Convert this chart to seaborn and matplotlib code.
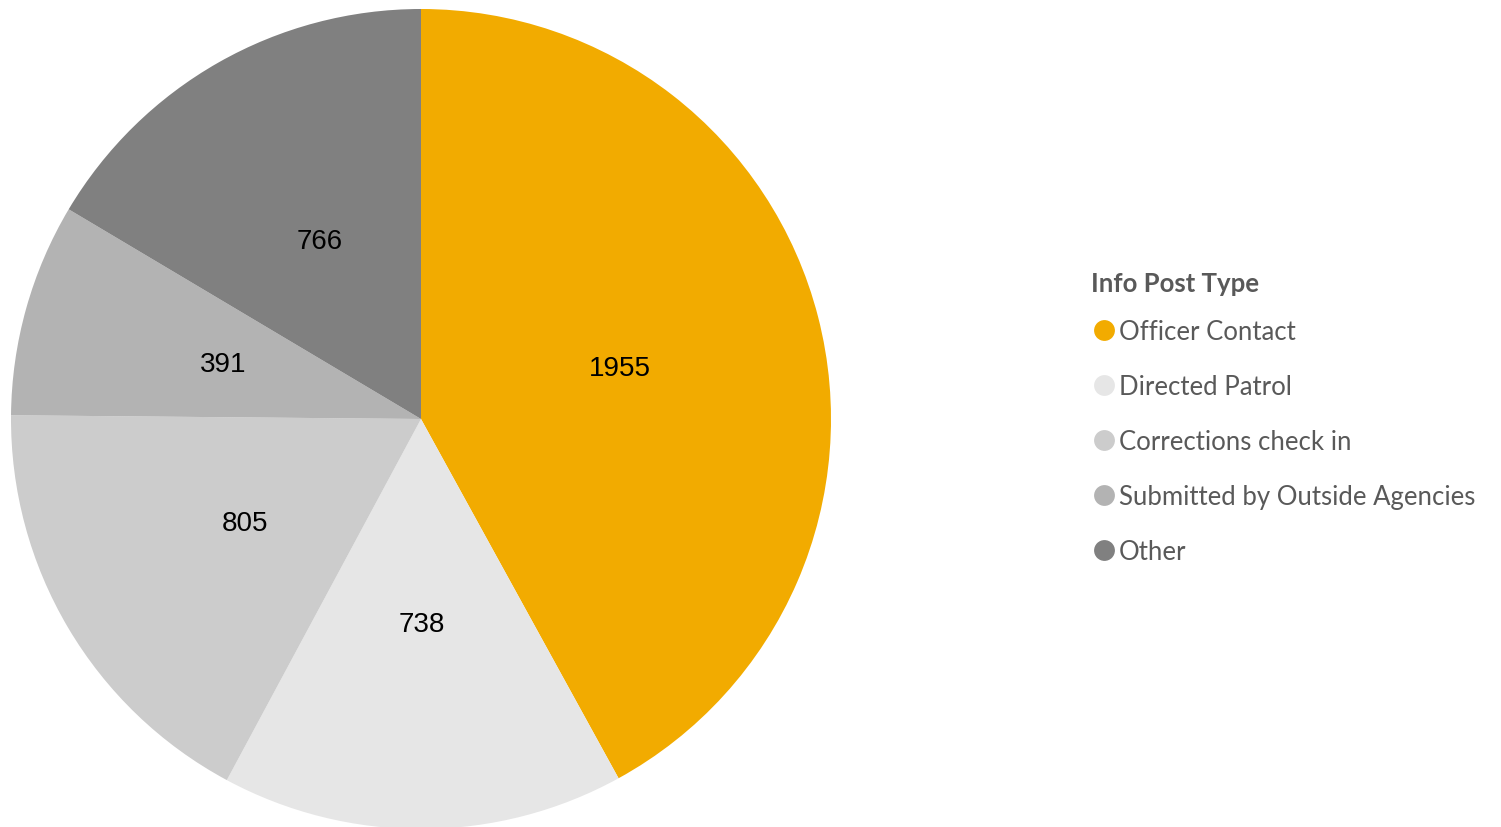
import matplotlib
matplotlib.use("Agg")
import matplotlib.pyplot as plt
from matplotlib.lines import Line2D
import seaborn as sns

categories = ["Officer Contact", "Directed Patrol", "Corrections check in",
              "Submitted by Outside Agencies", "Other"]
values = [1955, 738, 805, 391, 766]
colors = ["#F2AB00", "#E6E6E6", "#CCCCCC", "#B3B3B3", "#808080"]
legend_title = "Info Post Type"

sns.set_style("white")
plt.rcParams["font.family"] = ["Liberation Sans", "DejaVu Sans"]

fig = plt.figure(figsize=(15.01, 8.28), dpi=100)
W, H = 1501, 828
cx, cy, r = 421, 420, 410
ax = fig.add_axes([(cx - r) / W, (H - cy - r) / H, 2 * r / W, 2 * r / H])

ax.pie(values, colors=colors, startangle=90, counterclock=False,
       radius=1, autopct=lambda p: f"{round(p * sum(values) / 100):d}",
       pctdistance=0.5, textprops={"fontsize": 20, "color": "black"},
       wedgeprops={"linewidth": 0})
ax.set_xlim(-1, 1)
ax.set_ylim(-1, 1)
ax.set_aspect("equal")
ax.axis("off")

handles = [Line2D([0], [0], marker="o", linestyle="none", markersize=15,
                  markerfacecolor=c, markeredgecolor="none") for c in colors]
leg = fig.legend(handles, categories, loc="upper left",
                 bbox_to_anchor=(1073 / W, 1 - 297 / H), frameon=False,
                 prop={"family": "Lato", "size": 18.5},
                 handlelength=0.6, handletextpad=0.3, labelspacing=1.17)
for t in leg.get_texts():
    t.set_color("#595959")
fig.text(1091 / W, 1 - 284 / H, legend_title, family="Lato", size=18.5,
         weight="bold", color="#595959", ha="left", va="center")

fig.savefig("out.png", dpi=100)
